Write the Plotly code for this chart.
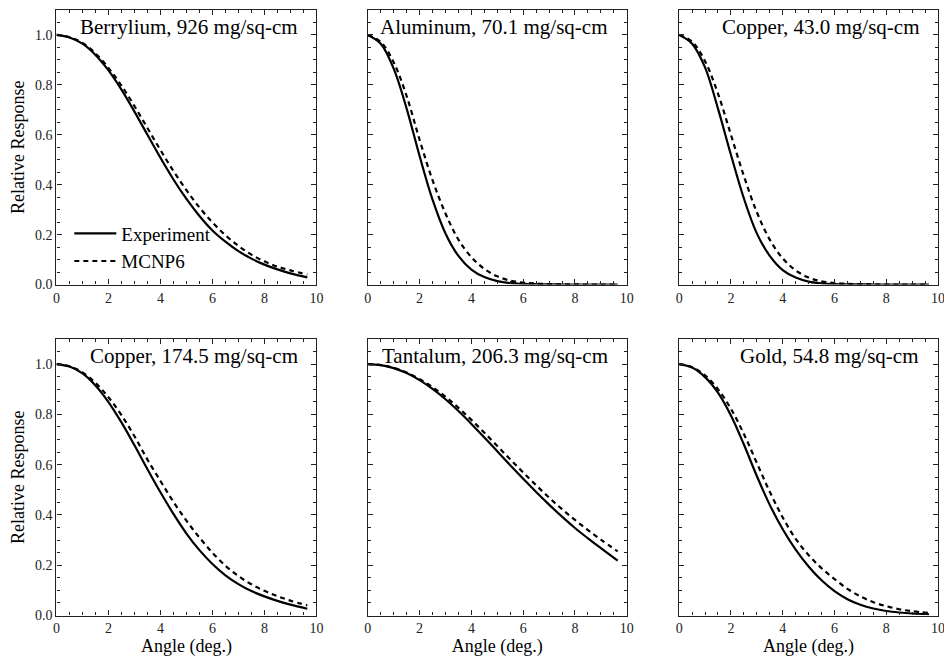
import plotly.graph_objects as go

# ---- data ----
angle = [0, 0.5, 1, 1.5, 2, 2.5, 3, 3.5, 4, 4.5, 5, 5.5, 6, 6.5, 7, 7.5, 8, 8.5, 9, 9.65]

titles = ["Berrylium, 926 mg/sq-cm", "Aluminum, 70.1 mg/sq-cm", "Copper, 43.0 mg/sq-cm",
          "Copper, 174.5 mg/sq-cm", "Tantalum, 206.3 mg/sq-cm", "Gold, 54.8 mg/sq-cm"]

be_exp = [1.0, 0.99, 0.965, 0.92, 0.858, 0.781, 0.693, 0.600, 0.508, 0.421, 0.343, 0.275, 0.217, 0.172, 0.134, 0.104, 0.080, 0.061, 0.045, 0.029]
be_mc = [1.0, 0.991, 0.968, 0.926, 0.868, 0.797, 0.715, 0.627, 0.539, 0.455, 0.378, 0.309, 0.249, 0.198, 0.155, 0.120, 0.093, 0.072, 0.057, 0.040]

al_exp = [1.0, 0.965, 0.865, 0.705, 0.515, 0.34, 0.205, 0.115, 0.06, 0.03, 0.014, 0.006, 0.003, 0.0015, 0.001, 0.0, 0.0, 0.0, 0.0, 0.0]
al_mc = [1.0, 0.972, 0.89, 0.755, 0.58, 0.418, 0.285, 0.18, 0.11, 0.063, 0.033, 0.016, 0.008, 0.004, 0.002, 0.001, 0.001, 0.0, 0.0, 0.0]

cu43_exp = [1.0, 0.965, 0.87, 0.705, 0.52, 0.345, 0.205, 0.115, 0.058, 0.028, 0.012, 0.005, 0.002, 0.001, 0.001, 0.0, 0.0, 0.0, 0.0, 0.0]
cu43_mc = [1.0, 0.973, 0.895, 0.765, 0.60, 0.435, 0.29, 0.18, 0.105, 0.057, 0.028, 0.013, 0.006, 0.003, 0.002, 0.001, 0.0, 0.0, 0.0, 0.0]

cu174_exp = [1.0, 0.99, 0.963, 0.915, 0.849, 0.768, 0.677, 0.582, 0.490, 0.404, 0.326, 0.26, 0.205, 0.16, 0.125, 0.097, 0.076, 0.058, 0.043, 0.027]
cu174_mc = [1.0, 0.991, 0.967, 0.925, 0.868, 0.797, 0.713, 0.62, 0.535, 0.452, 0.377, 0.31, 0.25, 0.198, 0.157, 0.124, 0.098, 0.077, 0.059, 0.04]

ta_exp = [1.0, 0.996, 0.984, 0.964, 0.936, 0.901, 0.860, 0.813, 0.762, 0.708, 0.653, 0.598, 0.544, 0.491, 0.441, 0.393, 0.348, 0.307, 0.268, 0.218]
ta_mc = [1.0, 0.996, 0.985, 0.966, 0.940, 0.908, 0.870, 0.826, 0.778, 0.727, 0.674, 0.621, 0.569, 0.518, 0.469, 0.423, 0.380, 0.340, 0.302, 0.255]

au_exp = [1.0, 0.986, 0.948, 0.886, 0.795, 0.68, 0.555, 0.44, 0.343, 0.262, 0.195, 0.14, 0.097, 0.065, 0.043, 0.028, 0.018, 0.012, 0.008, 0.005]
au_mc = [1.0, 0.988, 0.955, 0.90, 0.822, 0.722, 0.607, 0.492, 0.39, 0.305, 0.24, 0.188, 0.145, 0.106, 0.076, 0.053, 0.037, 0.025, 0.017, 0.01]

experiment = [be_exp, al_exp, cu43_exp, cu174_exp, ta_exp, au_exp]
mcnp = [be_mc, al_mc, cu43_mc, cu174_mc, ta_mc, au_mc]

x_ticks = [0, 2, 4, 6, 8, 10]
y_ticks = [0.0, 0.2, 0.4, 0.6, 0.8, 1.0]

# ---- layout geometry (page body has an 8px margin, so the figure is 944x656) ----
OFF = 8
W, H = 952 - OFF, 664 - OFF
col_px = [(53, 316), (368, 630), (683, 945)]
row_px = [(10, 288), (343, 623)]


def fx(p):
    return (p - OFF) / W


def fy(p):
    return 1 - (p - OFF) / H


FONT = "Liberation Serif"
AXC = "#222222"

fig = go.Figure()
layout = dict(
    width=W, height=H, margin=dict(l=0, r=0, t=0, b=0),
    paper_bgcolor="white", plot_bgcolor="white",
    font=dict(family=FONT, color="black", size=14),
    showlegend=True,
    legend=dict(x=fx(66), y=fy(217), xanchor="left", yanchor="top",
                font=dict(family=FONT, size=19, color="black"),
                bgcolor="rgba(0,0,0,0)", tracegroupgap=0, itemwidth=42),
)

annotations = []
for i in range(6):
    r, c = divmod(i, 3)
    ax = "" if i == 0 else str(i + 1)
    xa, ya = "x" + ax, "y" + ax
    x0, x1 = col_px[c]
    y0, y1 = row_px[r]
    fig.add_trace(go.Scatter(x=angle, y=experiment[i], mode="lines", name="Experiment",
                             line=dict(color="black", width=2.2, shape="spline", smoothing=1.0),
                             xaxis=xa, yaxis=ya, showlegend=(i == 0)))
    fig.add_trace(go.Scatter(x=angle, y=mcnp[i], mode="lines", name="MCNP6",
                             line=dict(color="black", width=2.2, dash="5px,4px", shape="spline", smoothing=1.0),
                             xaxis=xa, yaxis=ya, showlegend=(i == 0)))
    common = dict(showline=True, linecolor=AXC, linewidth=1.3, mirror="ticks",
                  ticks="inside", ticklen=5, tickwidth=1.2, tickcolor=AXC,
                  showgrid=False, zeroline=False,
                  tickfont=dict(family=FONT, size=14, color="#222"))
    layout["xaxis" + ax] = dict(common, domain=[fx(x0), fx(x1)], range=[0, 10], anchor=ya,
                                tickvals=x_ticks, ticktext=[str(v) for v in x_ticks],
                                minor=dict(dtick=0.5, ticks="inside", ticklen=3, tickcolor=AXC, tickwidth=1),
                                title=dict(text="Angle (deg.)" if r == 1 else "",
                                           font=dict(family=FONT, size=18), standoff=2))
    layout["yaxis" + ax] = dict(common, domain=[fy(y1), fy(y0)], range=[0, 1.1], anchor=xa,
                                tickvals=y_ticks, ticktext=["%.1f" % v for v in y_ticks],
                                showticklabels=(c == 0),
                                minor=dict(dtick=0.05, ticks="inside", ticklen=3, tickcolor=AXC, tickwidth=1),
                                title=dict(text="Relative Response" if c == 0 else "",
                                           font=dict(family=FONT, size=18), standoff=10))
    annotations.append(dict(text=titles[i], xref="paper", yref="paper",
                            x=fx(x1 - 17), y=fy(y0 + 17), xanchor="right", yanchor="middle",
                            showarrow=False, font=dict(family=FONT, size=21, color="black")))

layout["annotations"] = annotations
fig.update_layout(**layout)
fig.write_html("out.html")
